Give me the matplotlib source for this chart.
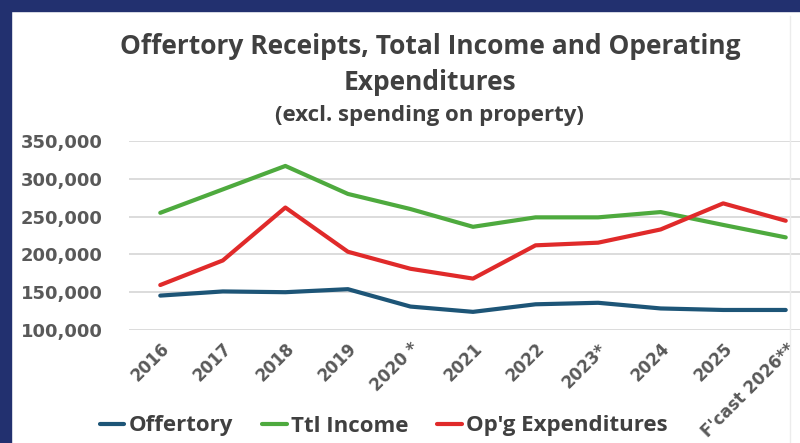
import matplotlib.pyplot as plt
from matplotlib.patches import Rectangle
from matplotlib.lines import Line2D
from matplotlib.ticker import FuncFormatter

years = ["2016", "2017", "2018", "2019", "2020 *", "2021", "2022", "2023*",
         "2024", "2025", "F'cast 2026**"]
offertory = [145500, 151000, 150000, 154000, 131000, 124000, 134000, 136000,
             128500, 126500, 126500]
ttl_income = [255000, 286000, 317000, 280000, 260000, 236500, 249000, 249000,
              256000, 239000, 222500]
opg_exp = [159500, 192000, 262000, 203500, 181000, 168000, 212000, 215500,
           233000, 267500, 244500]

font = ["Open Sans", "DejaVu Sans"]
txt_col = "#404040"
tick_col = "#595959"

fig = plt.figure(figsize=(8, 4.43), dpi=100)
fig.patch.set_facecolor("white")

# navy frame at top and left
fig.patches.append(Rectangle((0, 1 - 11 / 443), 1, 11 / 443, transform=fig.transFigure,
                             color="#22306f", zorder=0))
fig.patches.append(Rectangle((0, 0), 11 / 800, 1, transform=fig.transFigure,
                             color="#22306f", zorder=0))
fig.add_artist(Line2D([790 / 800, 790 / 800], [0, 1 - 16 / 443], transform=fig.transFigure,
                      color="#ececec", lw=1))

ax = fig.add_axes([129 / 800, 1 - 330 / 443, 688 / 800, 189 / 443])
x = range(len(years))
kw = dict(lw=3, solid_capstyle="round", solid_joinstyle="round")
ax.plot(x, offertory, color="#1d5577", label="Offertory", **kw)
ax.plot(x, ttl_income, color="#4eaa3e", label="Ttl Income", **kw)
ax.plot(x, opg_exp, color="#e02a2a", label="Op'g Expenditures", **kw)

ax.set_xlim(-0.5, len(years) - 0.5)
ax.set_ylim(100000, 350000)
ax.set_yticks(range(100000, 350001, 50000))
ax.yaxis.set_major_formatter(FuncFormatter(lambda v, p: f"{int(v):,}"))
ax.grid(axis="y", color="#d9d9d9", lw=1.3)
ax.set_axisbelow(True)
for s in ax.spines.values():
    s.set_visible(False)
ax.tick_params(length=0)
ax.tick_params(axis="y", pad=19)
ax.set_xticks(list(x))
ax.set_xticklabels(years, rotation=45, ha="right", rotation_mode="anchor")
for lab in ax.get_yticklabels():
    lab.set_fontsize(13)
    lab.set_fontweight("bold")
    lab.set_color(tick_col)
for lab in ax.get_xticklabels():
    lab.set_fontsize(12)
    lab.set_fontweight("bold")
    lab.set_color(tick_col)
ax.tick_params(axis="x", pad=7)

fig.text(0.538, 1 - 47 / 443, "Offertory Receipts, Total Income and Operating",
         ha="center", va="center", fontsize=19, fontweight="bold", color=txt_col, family=font)
fig.text(0.538, 1 - 82 / 443, "Expenditures",
         ha="center", va="center", fontsize=19, fontweight="bold", color=txt_col, family=font)
fig.text(0.537, 1 - 116 / 443, "(excl. spending on property)",
         ha="center", va="center", fontsize=16, fontweight="bold", color=txt_col, family=font)

fig.legend(loc="center left", bbox_to_anchor=(100 / 800, 1 - 426 / 443), ncol=3,
           frameon=False, borderaxespad=0, borderpad=0,
           handlelength=1.1, handletextpad=0.2, columnspacing=1.3,
           prop={"family": font, "weight": "bold", "size": 16}, labelcolor=txt_col)

fig.savefig("out.png", dpi=100)
